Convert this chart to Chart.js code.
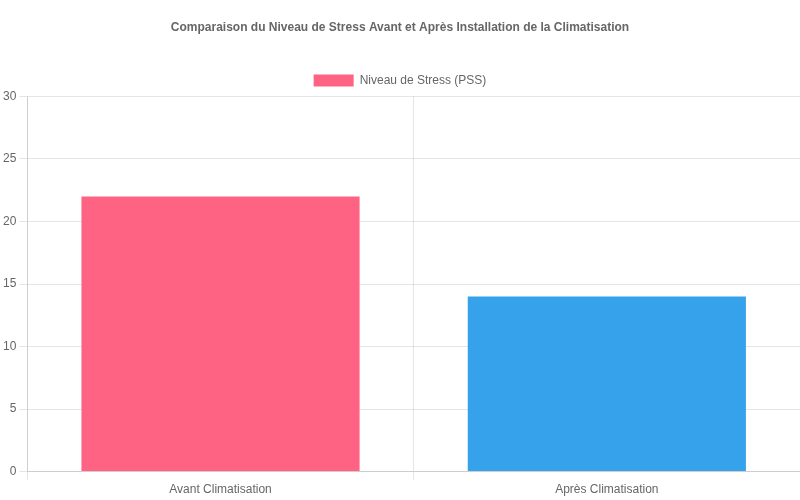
<!DOCTYPE html>
<html><head><meta charset="utf-8">
<script src="https://cdn.jsdelivr.net/npm/chart.js@4"></script>
<style>html,body{margin:0;background:#fff}#w{width:800px;height:500px}</style>
</head><body><div id="w"><canvas id="c"></canvas></div>
<script>
const categories = ["Avant Climatisation", "Après Climatisation"];
const stressValues = [22, 14];
const seriesLabel = "Niveau de Stress (PSS)";
Chart.defaults.font.family = "'Liberation Sans', Arial, sans-serif";
Chart.defaults.color = "#666";
new Chart(document.getElementById('c'), {
  type: 'bar',
  data: { labels: categories, datasets: [{ label: seriesLabel, data: stressValues,
    backgroundColor: ['rgb(255,99,132)', 'rgb(54,162,235)'] }] },
  options: {
    responsive: true, maintainAspectRatio: false, animation: false,
    plugins: {
      title: { display: true, text: 'Comparaison du Niveau de Stress Avant et Après Installation de la Climatisation',
        font: { size: 12, weight: 'bold' }, padding: { top: 20, bottom: 30 } },
      legend: { labels: { boxWidth: 40, font: { size: 12 } } }
    },
    scales: {
      y: { min: 0, max: 30, ticks: { stepSize: 5 } },
      x: {}
    }
  }
});
</script></body></html>
